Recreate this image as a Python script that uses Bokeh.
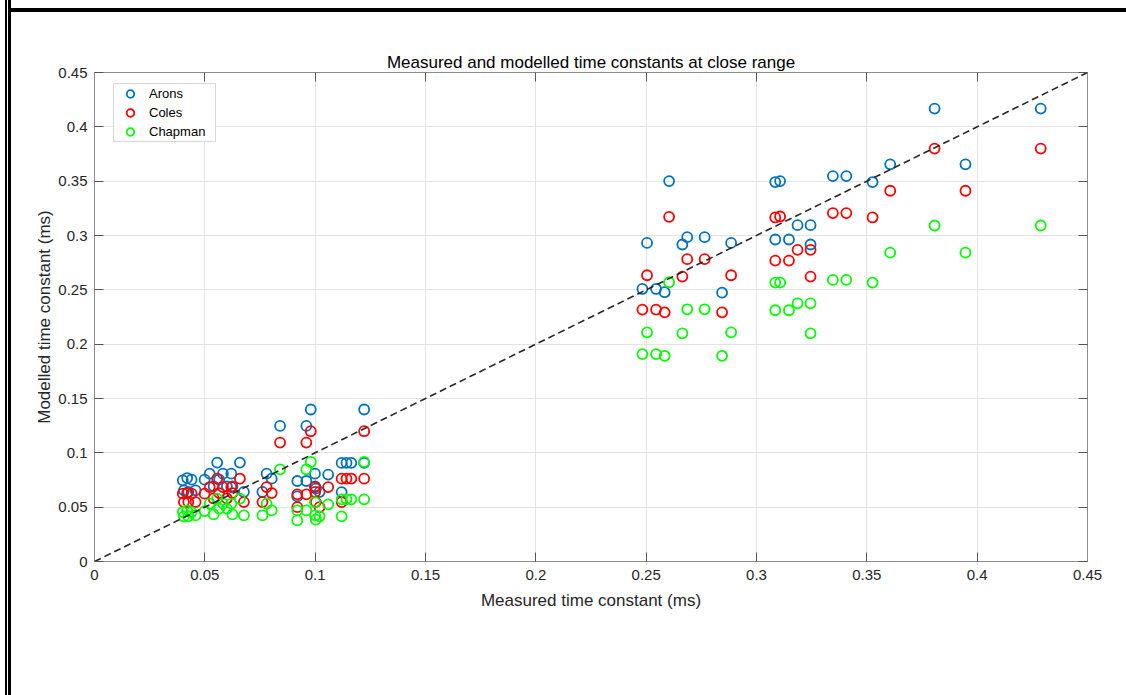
from bokeh.plotting import figure
from bokeh.models import (Range1d, FixedTicker, LinearAxis, CustomJSTickFormatter,
                          Legend, LegendItem, InlineStyleSheet)
from bokeh.embed import file_html
from bokeh.resources import INLINE

# ---------------- data ----------------
measured = [0.2483, 0.2504, 0.2545, 0.2584, 0.2604, 0.2664, 0.2686, 0.2765, 0.2844, 0.2885,
            0.3085, 0.3085, 0.3107, 0.3147, 0.3186, 0.3245, 0.3245, 0.3346, 0.3407, 0.3526,
            0.3606, 0.3807, 0.3947, 0.4288,
            0.0400, 0.0405, 0.0420, 0.0425, 0.0440, 0.0458,
            0.0499, 0.0522, 0.0540, 0.0556, 0.0565, 0.0582, 0.0600, 0.0620, 0.0625, 0.0659, 0.0677,
            0.0761, 0.0780, 0.0803, 0.0841,
            0.0919, 0.0919, 0.0960, 0.0960, 0.0980, 0.0999, 0.1000, 0.1003, 0.1020, 0.1059,
            0.1120, 0.1120, 0.1142, 0.1164, 0.1222, 0.1222]
arons = [0.2508, 0.2932, 0.2508, 0.2478, 0.3501, 0.2917, 0.2985, 0.2985, 0.2474, 0.2932,
         0.3492, 0.2963, 0.3501, 0.2963, 0.3095, 0.3095, 0.2917, 0.3547, 0.3547, 0.3492,
         0.3655, 0.4168, 0.3655, 0.4168,
         0.0747, 0.0655, 0.0768, 0.0640, 0.0753, 0.0655,
         0.0753, 0.0808, 0.0692, 0.0910, 0.0753, 0.0808, 0.0692, 0.0808, 0.0692, 0.0910, 0.0640,
         0.0640, 0.0808, 0.0762, 0.1248,
         0.0741, 0.0599, 0.0741, 0.1248, 0.1399, 0.0808, 0.0692, 0.0670, 0.0640, 0.0800,
         0.0907, 0.0639, 0.0907, 0.0907, 0.1399, 0.0907]
coles = [0.2318, 0.2634, 0.2318, 0.2293, 0.3172, 0.2622, 0.2782, 0.2782, 0.2293, 0.2634,
         0.3166, 0.2769, 0.3175, 0.2769, 0.2868, 0.2868, 0.2622, 0.3206, 0.3206, 0.3166,
         0.3412, 0.3800, 0.3412, 0.3800,
         0.0624, 0.0547, 0.0630, 0.0547, 0.0624, 0.0547,
         0.0624, 0.0685, 0.0580, 0.0762, 0.0630, 0.0685, 0.0580, 0.0685, 0.0630, 0.0762, 0.0547,
         0.0547, 0.0685, 0.0630, 0.1094,
         0.0618, 0.0500, 0.0618, 0.1094, 0.1199, 0.0685, 0.0640, 0.0547, 0.0500, 0.0685,
         0.0762, 0.0547, 0.0762, 0.0762, 0.1199, 0.0762]
chapman = [0.1909, 0.2109, 0.1909, 0.1893, 0.2570, 0.2100, 0.2321, 0.2321, 0.1893, 0.2109,
           0.2567, 0.2312, 0.2567, 0.2312, 0.2376, 0.2376, 0.2100, 0.2591, 0.2591, 0.2567,
           0.2843, 0.3092, 0.2843, 0.3092,
           0.0455, 0.0415, 0.0470, 0.0415, 0.0455, 0.0424,
           0.0464, 0.0532, 0.0433, 0.0578, 0.0486, 0.0532, 0.0486, 0.0532, 0.0433, 0.0578, 0.0424,
           0.0424, 0.0532, 0.0470, 0.0848,
           0.0470, 0.0378, 0.0470, 0.0848, 0.0916, 0.0547, 0.0424, 0.0385, 0.0415, 0.0526,
           0.0572, 0.0415, 0.0572, 0.0572, 0.0916, 0.0572]
series_names = ["Arons", "Coles", "Chapman"]
series_colors = ["#0072BD", "#FF0000", "#00FF00"]
ticks = [0, 0.05, 0.1, 0.15, 0.2, 0.25, 0.3, 0.35, 0.4, 0.45]
diag = [0, 0.45]

FONT = "Liberation Sans"
TXT = "#262626"
AX = "#8c8c8c"

p = figure(width=1126, height=695, output_backend="svg", toolbar_location=None,
           x_range=Range1d(0, 0.45), y_range=Range1d(0, 0.45),
           min_border_left=94, min_border_right=39, min_border_top=72, min_border_bottom=134,
           title="Measured and modelled time constants at close range")
p.title.align = "center"
p.title.text_font = FONT
p.title.text_font_size = "17px"
p.title.text_font_style = "normal"
p.title.text_color = "#000000"
p.title.standoff = 2
p.outline_line_color = None
p.background_fill_color = "white"
p.border_fill_color = "white"

fmt = CustomJSTickFormatter(code="return String(Math.round(tick*100)/100);")
for ax in (p.xaxis[0], p.yaxis[0]):
    ax.ticker = FixedTicker(ticks=ticks)
    ax.formatter = fmt
    ax.major_label_text_font = FONT
    ax.major_label_text_font_size = "15px"
    ax.major_label_text_color = TXT
    ax.axis_label_text_font = FONT
    ax.axis_label_text_font_size = "17px"
    ax.axis_label_text_font_style = "normal"
    ax.axis_label_text_color = TXT
    ax.axis_line_color = AX
    ax.major_tick_line_color = "#555555"
    ax.major_tick_in = 9
    ax.major_tick_out = 0
    ax.minor_tick_line_color = None
p.xaxis[0].axis_label = "Measured time constant (ms)"
p.yaxis[0].axis_label = "Modelled time constant (ms)"
p.xaxis[0].major_label_standoff = 8
p.yaxis[0].major_label_standoff = 7
p.xaxis[0].axis_label_standoff = 8
p.yaxis[0].axis_label_standoff = 1

blank = CustomJSTickFormatter(code="return '';")
for side in ("right", "above"):
    ax = LinearAxis(ticker=FixedTicker(ticks=ticks), formatter=blank,
                    major_label_text_font_size="1px",
                    axis_line_color=AX, major_tick_line_color="#555555",
                    major_tick_in=9, major_tick_out=0, minor_tick_line_color=None,
                    major_label_standoff=0)
    p.add_layout(ax, side)

p.xgrid.ticker = FixedTicker(ticks=ticks)
p.ygrid.ticker = FixedTicker(ticks=ticks)
p.xgrid.grid_line_color = "#e3e3e3"
p.ygrid.grid_line_color = "#e3e3e3"

renderers = []
for name, vals, col in zip(series_names, [arons, coles, chapman], series_colors):
    r = p.scatter(measured, vals, marker="circle", size=10, fill_color=None,
                  line_color=col, line_width=1.8)
    renderers.append((name, r))

p.line(diag, diag, line_color="#262626", line_width=1.6, line_dash="7 4")

legend = Legend(items=[LegendItem(label=n, renderers=[r]) for n, r in renderers],
                location=(19, 419))
legend.label_text_font = FONT
legend.label_text_font_size = "13px"
legend.label_text_color = "#000000"
legend.padding = 0
legend.spacing = 0
legend.margin = 0
legend.glyph_width = 32
legend.glyph_height = 19
legend.label_height = 19
legend.label_width = 66
legend.label_standoff = 3
legend.border_line_color = "#b0b0b0"
legend.border_line_width = 1
legend.background_fill_color = "white"
legend.background_fill_alpha = 1
p.add_layout(legend)

p.stylesheets = [InlineStyleSheet(css="""
:host::before { content: ""; position: absolute; left: 5px; top: 0; bottom: 0; width: 2px;
  background: #000; pointer-events: none; z-index: 10; }
:host::after { content: ""; position: absolute; left: 8px; top: 0; right: 0; bottom: 0;
  border-left: 3px solid #000;
  background: linear-gradient(#000, #000) no-repeat 0 8px / 100% 4px;
  pointer-events: none; z-index: 10; }
""")]

open("out.html", "w").write(file_html(p, INLINE))
